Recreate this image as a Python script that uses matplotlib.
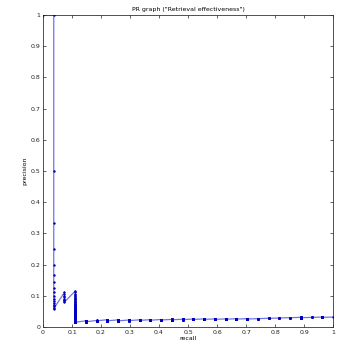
import numpy as np
from matplotlib import pyplot as plt

# ranks (1-based) at which each relevant item was retrieved
relevant_ranks = [1, 18, 26, 200, 238, 255, 304, 356, 391, 425, 458, 490, 520,
                  547, 577, 615, 654, 679, 712, 741, 750, 759, 767, 774, 806,
                  812, 844]
n_relevant = len(relevant_ranks)

ticks = [0, 0.1, 0.2, 0.3, 0.4, 0.5, 0.6, 0.7, 0.8, 0.9, 1]
tick_labels = ["0", "0.1", "0.2", "0.3", "0.4", "0.5", "0.6", "0.7", "0.8", "0.9", "1"]

# precision / recall at every rank up to the last relevant hit
ranks = np.arange(1, relevant_ranks[-1] + 1)
hits = np.cumsum(np.isin(ranks, relevant_ranks))
recall = np.concatenate([[0.0], hits / n_relevant])
precision = np.concatenate([[1.0], hits / ranks])

fig = plt.figure(figsize=(3.45, 3.47), dpi=100)
ax = fig.add_axes([0.1246, 0.0576, 0.841, 0.8992])

ax.plot(recall, precision, color="#7474e4", linewidth=0.9, zorder=2)
ax.plot(recall, precision, linestyle="none", marker=".", markersize=2.5,
        markeredgewidth=0.4, markerfacecolor="#0000c0",
        markeredgecolor="#0000c0", zorder=3)

ax.set_xlim(0, 1)
ax.set_ylim(0, 1)
ax.set_xticks(ticks)
ax.set_xticklabels(tick_labels)
ax.set_yticks(ticks)
ax.set_yticklabels(tick_labels)
ax.tick_params(direction="in", length=2.5, width=0.5, labelsize=4.5,
               top=True, right=True, pad=2, colors="#222222")
for sp in ax.spines.values():
    sp.set_linewidth(0.6)
    sp.set_color("#333333")

ax.set_xlabel("recall", fontsize=4.5, labelpad=1)
ax.set_ylabel("precision", fontsize=4.5, labelpad=2)
ax.set_title('PR graph ("Retrieval effectiveness")', fontsize=4.5, pad=3)

fig.savefig("out.png", dpi=100)
